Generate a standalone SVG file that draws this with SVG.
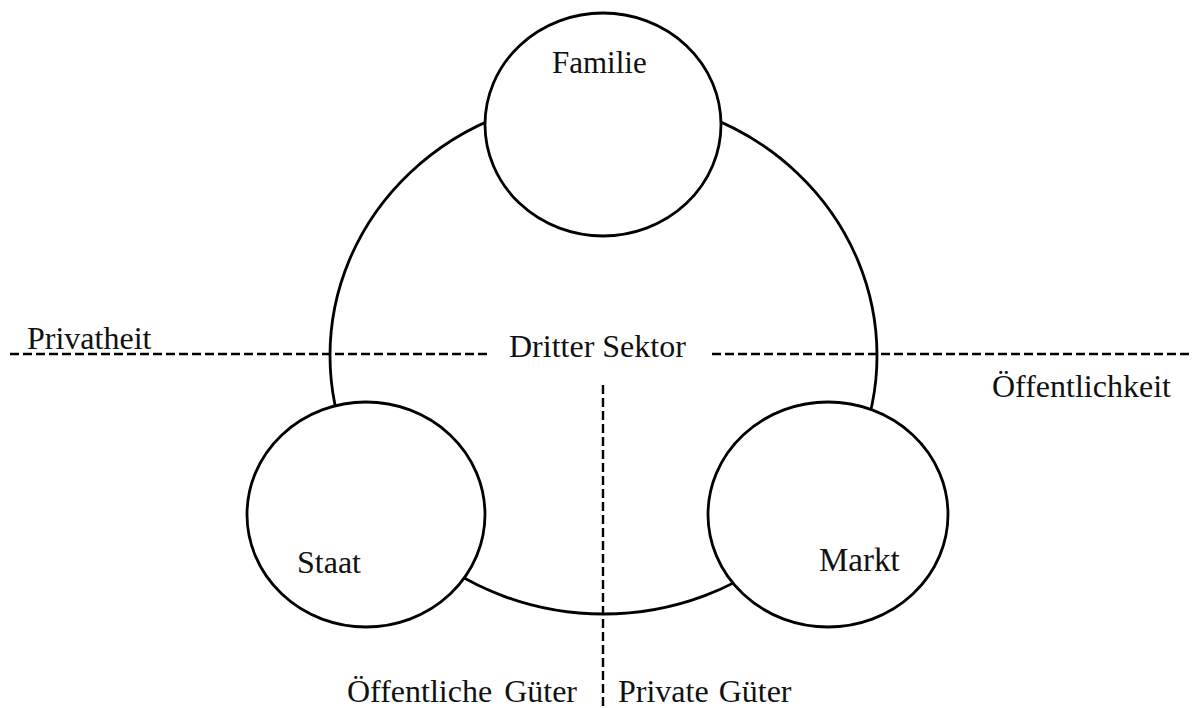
<svg xmlns="http://www.w3.org/2000/svg" width="1192" height="708" viewBox="0 0 1192 708">
<style>
.c{fill:#fff;stroke:#000;stroke-width:2.8}
.d{fill:none;stroke:#000;stroke-width:2.4;stroke-dasharray:9 4}
.t{font-family:"Liberation Serif","Times New Roman",serif;font-size:32px;fill:#111}
</style>
<rect width="1192" height="708" fill="#fff"/>
<g id="connectors">
<line class="d" x1="10" y1="354" x2="490" y2="354"/>
<line class="d" x1="712" y1="354" x2="1192" y2="354"/>
<line class="d" x1="603" y1="385" x2="603" y2="708"/>
</g>
<g id="dritter-sektor">
<ellipse class="c" cx="603.5" cy="355.5" rx="273.5" ry="258.5" style="fill:none"/>
<text class="t" x="509" y="357">Dritter Sektor</text>
</g>
<g id="familie">
<ellipse class="c" cx="603" cy="124.5" rx="118" ry="111.5"/>
<text class="t" x="552" y="73" style="font-size:31px">Familie</text>
</g>
<g id="staat">
<ellipse class="c" cx="366" cy="514.5" rx="119" ry="112.5"/>
<text class="t" x="297" y="573">Staat</text>
</g>
<g id="markt">
<ellipse class="c" cx="828" cy="514.5" rx="120" ry="112.5"/>
<text class="t" x="819" y="571" style="font-size:33px">Markt</text>
</g>
<g id="labels">
<text class="t" x="27" y="349">Privatheit</text>
<text class="t" x="992" y="397">Öffentlichkeit</text>
<text class="t" x="347" y="702" style="word-spacing:4px">Öffentliche Güter</text>
<text class="t" x="618" y="702" style="word-spacing:2px">Private Güter</text>
</g>
</svg>
